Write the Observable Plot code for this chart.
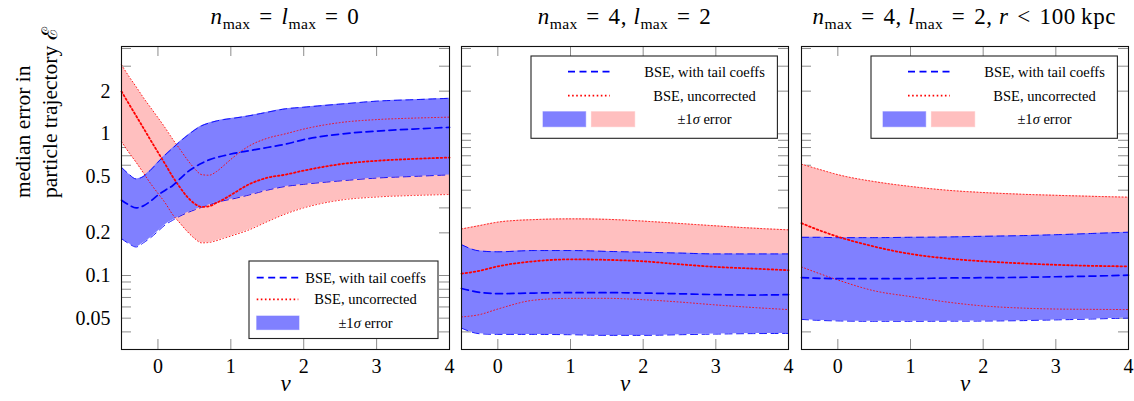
<!DOCTYPE html>
<html><head><meta charset="utf-8">
<script src="https://cdn.jsdelivr.net/npm/d3@7"></script>
<script src="https://cdn.jsdelivr.net/npm/@observablehq/plot@0.6"></script>
<style>
html,body{margin:0;padding:0;background:#fff;}
#root{position:relative;width:1134px;height:401px;overflow:hidden;font-family:"Liberation Serif",serif;color:#000;}
.pane{position:absolute;top:0;height:401px;}
.title{position:absolute;top:3px;font-family:"Liberation Serif",serif;font-size:23px;letter-spacing:0.6px;white-space:nowrap;transform:translateX(-50%);line-height:27px;}
.title sub{font-family:"Liberation Serif",serif;font-size:0.68em;vertical-align:-0.32em;line-height:0;font-style:normal;letter-spacing:0.3px;}
.title i{font-family:"Liberation Serif",serif;}
.title .op{margin:0 0.38em;}
</style></head><body><div id="root"></div>
<script>
// ---------- data ----------
const xTicks = [0, 1, 2, 3, 4];
const yLabelTicks = [0.05, 0.1, 0.2, 0.5, 1, 2];
const yMinorTicks = [0.04,0.05,0.06,0.07,0.08,0.09,0.1,0.2,0.3,0.4,0.5,0.6,0.7,0.8,0.9,1,2,3,4];

// panel 1: n_max = l_max = 0
const nu1 = [-0.5,-0.4,-0.3,-0.2,-0.1,0,0.1,0.2,0.3,0.4,0.5,0.6,0.7,0.8,0.9,1,1.25,1.5,1.75,2,2.5,3,3.5,4];
const p1BlueMed = [0.34,0.315,0.30,0.31,0.335,0.37,0.40,0.43,0.48,0.535,0.58,0.62,0.655,0.68,0.70,0.72,0.76,0.80,0.845,0.91,0.995,1.045,1.08,1.11];
const p1BlueLo  = [0.182,0.168,0.159,0.17,0.185,0.205,0.228,0.245,0.262,0.277,0.29,0.303,0.315,0.327,0.337,0.345,0.37,0.40,0.425,0.44,0.465,0.487,0.50,0.513];
const p1BlueHi  = [0.58,0.52,0.48,0.50,0.555,0.63,0.71,0.79,0.88,0.97,1.06,1.14,1.19,1.23,1.26,1.28,1.34,1.42,1.50,1.54,1.62,1.70,1.74,1.78];
const p1RedMed  = [1.99,1.63,1.34,1.10,0.90,0.74,0.61,0.50,0.42,0.36,0.322,0.305,0.308,0.325,0.345,0.37,0.44,0.49,0.515,0.55,0.61,0.645,0.665,0.68];
const p1RedLo   = [0.88,0.74,0.63,0.53,0.445,0.38,0.325,0.27,0.235,0.205,0.183,0.17,0.171,0.176,0.183,0.19,0.21,0.24,0.272,0.30,0.34,0.358,0.367,0.373];
const p1RedHi   = [3.07,2.55,2.15,1.80,1.53,1.30,1.10,0.92,0.78,0.66,0.57,0.515,0.51,0.54,0.595,0.66,0.82,0.93,1.0,1.08,1.20,1.26,1.29,1.31];

// panels 2 and 3 share the nu grid
const nu2 = [-0.5,-0.25,0,0.5,1,1.5,2,2.5,3,3.5,4];
// panel 2: n_max = 4, l_max = 2
const p2BlueMed = [0.081,0.076,0.0745,0.0752,0.0757,0.0757,0.0752,0.0743,0.0733,0.0728,0.0733];
const p2BlueLo  = [0.0425,0.0388,0.0384,0.0384,0.0382,0.0378,0.0378,0.0382,0.0386,0.0389,0.039];
const p2BlueHi  = [0.165,0.149,0.147,0.150,0.150,0.148,0.146,0.144,0.142,0.142,0.142];
const p2RedMed  = [0.103,0.108,0.116,0.126,0.130,0.129,0.126,0.120,0.115,0.112,0.109];
const p2RedLo   = [0.051,0.053,0.058,0.067,0.069,0.069,0.0675,0.065,0.062,0.0595,0.0575];
const p2RedHi   = [0.213,0.225,0.238,0.248,0.251,0.249,0.242,0.233,0.224,0.216,0.21];
// panel 3: n_max = 4, l_max = 2, r < 100 kpc
const p3BlueMed = [0.0965,0.0955,0.095,0.095,0.0952,0.096,0.0965,0.097,0.098,0.099,0.1005];
const p3BlueLo  = [0.049,0.0482,0.0478,0.0475,0.0475,0.0476,0.0477,0.048,0.0486,0.0493,0.0501];
const p3BlueHi  = [0.186,0.186,0.185,0.185,0.186,0.187,0.189,0.191,0.194,0.198,0.202];
const p3RedMed  = [0.234,0.208,0.188,0.16,0.142,0.132,0.126,0.122,0.119,0.117,0.116];
const p3RedLo   = [0.115,0.103,0.093,0.078,0.071,0.065,0.061,0.059,0.058,0.0577,0.0575];
const p3RedHi   = [0.61,0.56,0.515,0.46,0.425,0.40,0.385,0.375,0.368,0.362,0.357];

const legendLabels = ["BSE, with tail coeffs", "BSE, uncorrected", "±1σ error"];

// ---------- drawing ----------
const H = 401, MT = 46, MB = 52, TICK = 10;
const BLUE = "#0000ff", RED = "#ff0000", LBLUE = "#8080ff", PINK = "#ffbfbf", TICKC = "#8c8c8c";
const FONT = "Liberation Serif, serif";
const curve = "monotone-x";
const root = document.getElementById("root");

function makePanel(cfg) {
  const rows = cfg.nu.map((x, i) => ({nu: x, bMed: cfg.bMed[i], bLo: cfg.bLo[i], bHi: cfg.bHi[i], rMed: cfg.rMed[i], rLo: cfg.rLo[i], rHi: cfg.rHi[i]}));
  const plotW = cfg.width - cfg.ml - cfg.mr, plotH = H - MT - MB;
  const marks = [
    Plot.ruleX(xTicks, {x: d => d, insetTop: plotH - TICK, stroke: TICKC}),
    Plot.ruleX(xTicks, {x: d => d, insetBottom: plotH - TICK, stroke: TICKC}),
    Plot.ruleY(yMinorTicks, {y: d => d, insetRight: plotW - TICK, stroke: TICKC}),
    Plot.ruleY(yMinorTicks, {y: d => d, insetLeft: plotW - TICK, stroke: TICKC}),
    Plot.areaY(rows, {x: "nu", y1: "rLo", y2: "rHi", fill: PINK, curve}),
    Plot.areaY(rows, {x: "nu", y1: "bLo", y2: "bHi", fill: LBLUE, curve}),
    Plot.lineY(rows, {x: "nu", y: "rLo", stroke: RED, strokeWidth: 0.9, strokeDasharray: "0.9,2.4", curve}),
    Plot.lineY(rows, {x: "nu", y: "rHi", stroke: RED, strokeWidth: 0.9, strokeDasharray: "0.9,2.4", curve}),
    Plot.lineY(rows, {x: "nu", y: "bLo", stroke: BLUE, strokeWidth: 0.9, strokeDasharray: "7,4.5", curve}),
    Plot.lineY(rows, {x: "nu", y: "bHi", stroke: BLUE, strokeWidth: 0.9, strokeDasharray: "7,4.5", curve}),
    Plot.lineY(rows, {x: "nu", y: "rMed", stroke: RED, strokeWidth: 1.8, strokeDasharray: "1.6,2.5", curve}),
    Plot.lineY(rows, {x: "nu", y: "bMed", stroke: BLUE, strokeWidth: 1.7, strokeDasharray: "7,4.5", curve}),
    Plot.axisX({ticks: xTicks, tickSize: 0, tickPadding: 9, label: null, tickFormat: d => String(d), fontFamily: FONT, fontSize: 20}),
    Plot.text(["ν"], {text: d => d, frameAnchor: "bottom", dy: 41, fontStyle: "italic", fontSize: 23, fontFamily: FONT}),
    Plot.frame({stroke: "#111", strokeWidth: 1.1})
  ];
  if (cfg.yAxis) {
    marks.push(Plot.axisY({ticks: yLabelTicks, tickSize: 0, tickPadding: 11, label: null, tickFormat: d => String(d), fontFamily: FONT, fontSize: 20}));
    marks.push(Plot.text(["median error in\nparticle trajectory ℰ"], {text: d => d, frameAnchor: "left", dx: -87, rotate: -90, lineHeight: 1.28, fontSize: 21.5, fontFamily: FONT}));
  }
  const chart = Plot.plot({
    width: cfg.width, height: H,
    marginTop: MT, marginBottom: MB, marginLeft: cfg.ml, marginRight: cfg.mr,
    style: {fontFamily: FONT, fontSize: "20px", background: "transparent", overflow: "visible", color: "#000"},
    x: {domain: [-0.5, 4]},
    y: {type: "log", domain: [0.03005, 4.131], axis: cfg.yAxis ? undefined : null},
    marks
  });
  const div = document.createElement("div");
  div.className = "pane";
  div.style.left = cfg.left + "px";
  div.style.width = cfg.width + "px";
  div.appendChild(chart);
  root.appendChild(div);
}

function addTitle(html, cx) {
  const d = document.createElement("div");
  d.className = "title";
  d.style.left = cx + "px";
  d.innerHTML = html;
  root.appendChild(d);
}

function addLegend(L) {
  const svg = d3.create("svg").attr("width", L.w + 2).attr("height", L.h + 2)
    .style("position", "absolute").style("left", (L.x - 1) + "px").style("top", (L.y - 1) + "px")
    .attr("font-family", FONT).attr("font-size", 14.5);
  const g = svg.append("g").attr("transform", "translate(1,1)");
  g.append("rect").attr("width", L.w).attr("height", L.h).attr("fill", "#fff").attr("stroke", "#222").attr("stroke-width", 1.1);
  g.append("line").attr("x1", L.lx0).attr("x2", L.lx1).attr("y1", L.r1).attr("y2", L.r1)
    .attr("stroke", BLUE).attr("stroke-width", 1.7).attr("stroke-dasharray", "7,4.5");
  g.append("line").attr("x1", L.lx0).attr("x2", L.lx1).attr("y1", L.r2).attr("y2", L.r2)
    .attr("stroke", RED).attr("stroke-width", 1.8).attr("stroke-dasharray", "1.6,2.5");
  L.fills.forEach(f => g.append("rect").attr("x", f.x0).attr("width", f.x1 - f.x0).attr("y", L.r3a).attr("height", L.r3b - L.r3a)
    .attr("fill", f.c).attr("stroke", f.c).attr("stroke-width", 1).attr("stroke-opacity", 0.6));
  const tx = [[legendLabels[0], L.r1], [legendLabels[1], L.r2]];
  tx.forEach(([t, y]) => g.append("text").attr("x", L.tx).attr("y", y).attr("text-anchor", "middle").attr("dy", "0.35em").text(t));
  const t3 = g.append("text").attr("x", L.tx).attr("y", (L.r3a + L.r3b) / 2).attr("text-anchor", "middle").attr("dy", "0.35em");
  t3.append("tspan").text("±1");
  t3.append("tspan").attr("font-style", "italic").text("σ");
  t3.append("tspan").text(" error");
  root.appendChild(svg.node());
}

makePanel({nu: nu1, bMed: p1BlueMed, bLo: p1BlueLo, bHi: p1BlueHi, rMed: p1RedMed, rLo: p1RedLo, rHi: p1RedHi,
  left: 0, width: 454, ml: 121, mr: 5, yAxis: true});
makePanel({nu: nu2, bMed: p2BlueMed, bLo: p2BlueLo, bHi: p2BlueHi, rMed: p2RedMed, rLo: p2RedLo, rHi: p2RedHi,
  left: 455, width: 340, ml: 6, mr: 7, yAxis: false});
makePanel({nu: nu2, bMed: p3BlueMed, bLo: p3BlueLo, bHi: p3BlueHi, rMed: p3RedMed, rLo: p3RedLo, rHi: p3RedHi,
  left: 795, width: 339, ml: 6, mr: 6, yAxis: false});

addTitle('<i>n</i><sub>max</sub><span class="op">=</span><i>l</i><sub>max</sub><span class="op">=</span>0', 285);
addTitle('<i>n</i><sub>max</sub><span class="op">=</span>4, <i>l</i><sub>max</sub><span class="op">=</span>2', 624.5);
addTitle('<i>n</i><sub>max</sub><span class="op">=</span>4, <i>l</i><sub>max</sub><span class="op">=</span>2, <i>r</i><span class="op">&lt;</span>100&#8201;kpc', 964.3);

addLegend({x: 249, y: 261, w: 189, h: 77.5, lx0: 7.7, lx1: 49.3, r1: 16.6, r2: 38.3, r3a: 55, r3b: 68.6, tx: 116.5,
  fills: [{x0: 7.7, x1: 50, c: LBLUE}]});
addLegend({x: 531.3, y: 56, w: 246.4, h: 82.3, lx0: 37, lx1: 78.7, r1: 15.7, r2: 39.7, r3a: 55.7, r3b: 70.7, tx: 173.5,
  fills: [{x0: 12, x1: 54.7, c: LBLUE}, {x0: 60.4, x1: 103.7, c: PINK}]});
addLegend({x: 871.3, y: 56, w: 246.4, h: 82.3, lx0: 37, lx1: 78.7, r1: 15.7, r2: 39.7, r3a: 55.7, r3b: 70.7, tx: 173.5,
  fills: [{x0: 12, x1: 54.7, c: LBLUE}, {x0: 60.4, x1: 103.7, c: PINK}]});
</script></body></html>
